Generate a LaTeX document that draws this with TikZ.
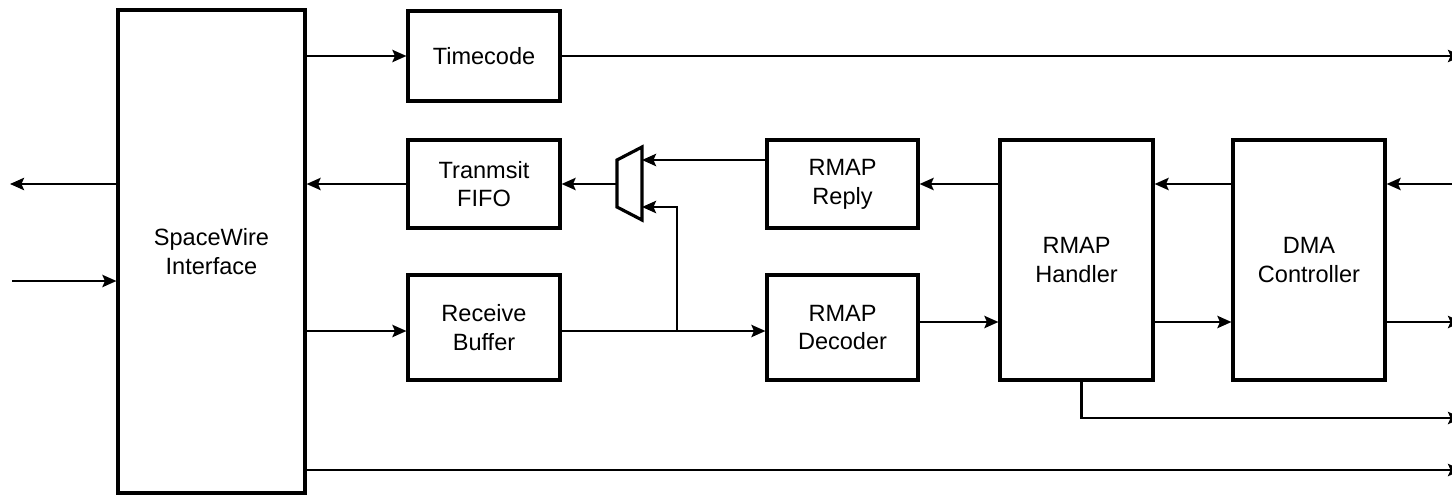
\documentclass[tikz,border=0pt]{standalone}
\usepackage{fontspec}
\setmainfont{Liberation Sans}
\usepackage{tikz}
\usetikzlibrary{arrows.meta, positioning}
\tikzset{
    block/.style={rectangle, draw=black, line width=1.8pt, fill=white, text centered, align=center, inner sep=0pt, font=\fontsize{13.4}{16.4}\selectfont},
    arrow/.style={line width=1.3pt, -{Stealth[length=8pt, width=7pt, inset=1.5pt]}},
    wire/.style={line width=1.3pt}
}

\begin{document}
\begin{tikzpicture}[x=0.02cm, y=-0.02cm]
    \useasboundingbox (0,0) rectangle (1452,497);

    \node (spw) [block, minimum width=187*0.02cm, minimum height=483*0.02cm] at (211.5,251.5) {SpaceWire\\Interface};
    \node (timecode) [block, minimum width=152*0.02cm, minimum height=90*0.02cm] at (484,56) {Timecode};
    \node (txfifo) [block, minimum width=152*0.02cm, minimum height=88*0.02cm] at (484,184) {Tranmsit\\FIFO};
    \node (rxbuf) [block, minimum width=152*0.02cm, minimum height=105*0.02cm] at (484,327.5) {Receive\\Buffer};
    \node (reply) [block, minimum width=151*0.02cm, minimum height=88*0.02cm] at (842.5,184) {RMAP\\Reply};
    \node (decoder) [block, minimum width=151*0.02cm, minimum height=105*0.02cm] at (842.5,327.5) {RMAP\\Decoder};
    \node (handler) [block, minimum width=153*0.02cm, minimum height=240*0.02cm] at (1076.5,260) {RMAP\\Handler};
    \node (dma) [block, minimum width=152*0.02cm, minimum height=240*0.02cm] at (1309,260) {DMA\\Controller};

    % multiplexer
    \draw [line width=1.8pt] (617,160) -- (642,147) -- (642,220) -- (617,207) -- cycle;
    \coordinate (muxa) at (642,160);
    \coordinate (muxb) at (642,207);
    \coordinate (muxo) at (617,184);
    \coordinate (split) at (677,331);

    % outside connections
    \coordinate (extout) at (10,184);
    \coordinate (extin) at (12,281);
    \coordinate (tcout) at (1462,56);
    \coordinate (dmain) at (1475,184);
    \coordinate (dmaout) at (1462,322);
    \coordinate (hdlout) at (1462,418);
    \coordinate (spwout) at (1462,470);

    \draw [arrow] (spw.west |- txfifo) -- (extout);
    \draw [arrow] (extin) -- (spw.west |- extin);

    \draw [arrow] (spw.east |- timecode) -- (timecode);
    \draw [arrow] (txfifo) -- (spw.east |- txfifo);
    \draw [arrow] (spw.east |- split) -- (rxbuf.west |- split);
    \draw [arrow] (muxo) -- (txfifo.east);
    \draw [arrow] (reply.west |- muxa) -- (muxa);
    \draw [arrow] (rxbuf.east |- split) -- (decoder.west |- split);
    \draw [arrow] (split) |- (muxb);

    \draw [arrow] (decoder.east |- 0,322) -- (handler.west |- 0,322);
    \draw [arrow] (handler.west |- reply) -- (reply.east);
    \draw [arrow] (dma.west |- reply) -- (handler.east |- reply);
    \draw [arrow] (handler.east |- 0,322) -- (dma.west |- 0,322);

    \draw [arrow] (timecode) -- (tcout);
    \draw [arrow] (dmain) -- (dma.east |- dmain);
    \draw [arrow] (dma.east |- dmaout) -- (dmaout);
    \draw [arrow] ([xshift=0.1cm]handler.south) |- (hdlout);
    \draw [arrow] (spw.east |- spwout) -- (spwout);
\end{tikzpicture}
\end{document}
